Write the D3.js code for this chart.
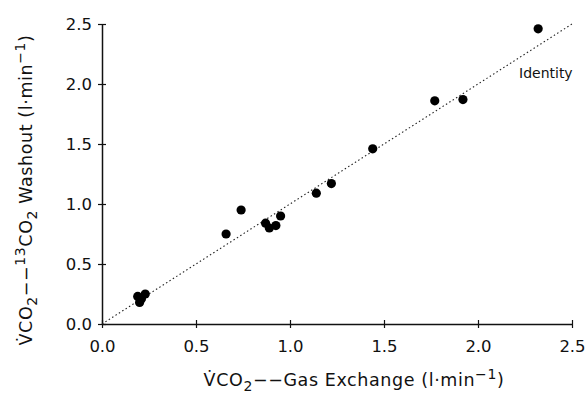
<!DOCTYPE html>
<head>
<meta charset="utf-8">
<script src="https://d3js.org/d3.v7.min.js"></script>
<style>
body{ margin:0; background:#fff; }
svg text{ font-family: "DejaVu Sans", sans-serif; fill:#111; }
</style>
</head>
<body>
<div id="chart"></div>
<script>
// data
var gasExchange = [2.32, 1.77, 1.92, 1.44, 1.22, 1.14, 0.74, 0.66, 0.87, 0.89, 0.925, 0.95, 0.19, 0.20, 0.23, 0.21];
var washout     = [2.46, 1.86, 1.87, 1.46, 1.17, 1.09, 0.95, 0.75, 0.84, 0.80, 0.82, 0.90, 0.23, 0.18, 0.25, 0.21];
var tickValues  = [0, 0.5, 1.0, 1.5, 2.0, 2.5];
var identity    = [0, 2.5];

var width = 588, height = 394;
var svg = d3.select("#chart").append("svg")
	.attr("width", width)
	.attr("height", height);

var x = d3.scaleLinear().domain([0, 2.5]).range([102, 572]);
var y = d3.scaleLinear().domain([0, 2.5]).range([324, 24]);

// axes, ticks crossing the line
var xAxis = svg.append("g").attr("transform", "translate(0," + y(0) + ")")
	.call(d3.axisBottom(x).tickValues(tickValues).tickSize(0).tickFormat(d3.format(".1f")));
xAxis.select(".domain").attr("stroke", "#111").attr("stroke-width", 1.5);
xAxis.selectAll(".tick line").attr("y1", -4).attr("y2", 4).attr("stroke", "#111").attr("stroke-width", 1.2);
xAxis.selectAll(".tick text").attr("y", 16).attr("font-size", 16.5).attr("dy", "0.71em").attr("font-family", "DejaVu Sans");

var yAxis = svg.append("g").attr("transform", "translate(" + x(0) + ",0)")
	.call(d3.axisLeft(y).tickValues(tickValues).tickSize(0).tickFormat(d3.format(".1f")));
yAxis.select(".domain").attr("stroke", "#111").attr("stroke-width", 1.5);
yAxis.selectAll(".tick line").attr("x1", -4).attr("x2", 4).attr("stroke", "#111").attr("stroke-width", 1.2);
yAxis.selectAll(".tick text").attr("x", -10).attr("font-size", 16.5).attr("font-family", "DejaVu Sans");

// identity line
svg.append("line")
	.attr("x1", x(identity[0])).attr("y1", y(identity[0]))
	.attr("x2", x(identity[1])).attr("y2", y(identity[1]))
	.attr("stroke", "#222").attr("stroke-width", 1.1)
	.attr("stroke-dasharray", "1.5,2.5");

svg.append("text")
	.attr("x", 519).attr("y", 78)
	.attr("font-size", 14)
	.text("Identity");

// points
svg.append("g").selectAll("circle")
	.data(gasExchange.map(function(v, i) { return [v, washout[i]]; }))
	.join("circle")
	.attr("cx", d => x(d[0]))
	.attr("cy", d => y(d[1]))
	.attr("r", 4.6)
	.attr("fill", "#000");

// x label
var xl = svg.append("text")
	.attr("x", 354).attr("y", 386)
	.attr("text-anchor", "middle")
	.attr("font-size", 17.5)
	.attr("letter-spacing", 0.6);
xl.append("tspan").text("V\u0307CO");
xl.append("tspan").attr("font-size", 14).attr("dy", 5).text("2");
xl.append("tspan").attr("dy", -5).text("\u2212\u2212Gas Exchange (l\u00b7min");
xl.append("tspan").attr("font-size", 14).attr("dy", -7).text("\u22121");
xl.append("tspan").attr("dy", 7).text(")");

// y label
var yl = svg.append("text")
	.attr("transform", "translate(32,190) rotate(-90)")
	.attr("text-anchor", "middle")
	.attr("font-size", 17.5)
	.attr("letter-spacing", 0.6);
yl.append("tspan").text("V\u0307CO");
yl.append("tspan").attr("font-size", 14).attr("dy", 5).text("2");
yl.append("tspan").attr("dy", -5).text("\u2212\u2212");
yl.append("tspan").attr("font-size", 14).attr("dy", -7).text("13");
yl.append("tspan").attr("dy", 7).text("CO");
yl.append("tspan").attr("font-size", 14).attr("dy", 5).text("2");
yl.append("tspan").attr("dy", -5).text(" Washout (l\u00b7min");
yl.append("tspan").attr("font-size", 14).attr("dy", -7).text("\u22121");
yl.append("tspan").attr("dy", 7).text(")");
</script>
</body>
</html>
